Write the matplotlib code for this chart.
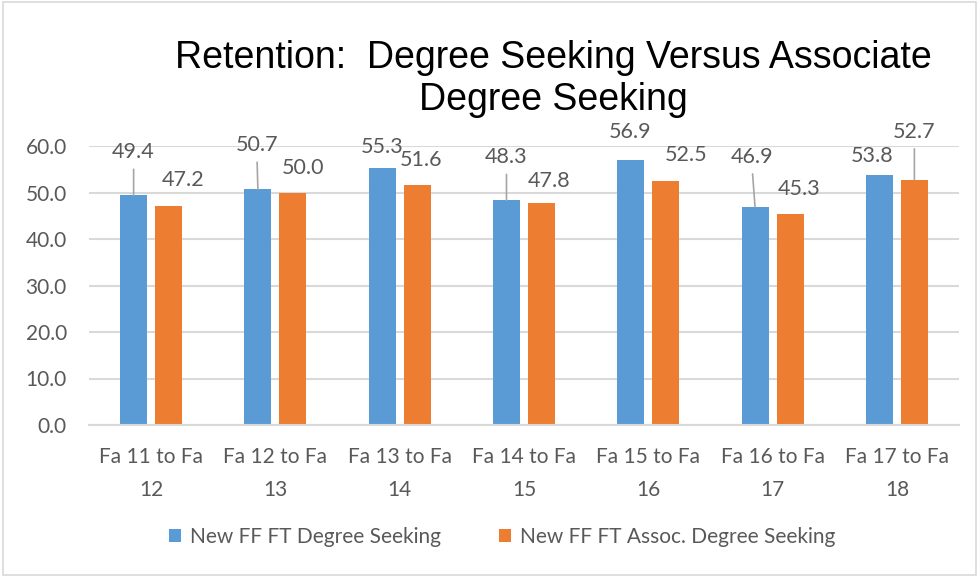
import matplotlib.pyplot as plt
import numpy as np

categories = ['Fa 11 to Fa\n12', 'Fa 12 to Fa\n13', 'Fa 13 to Fa\n14', 'Fa 14 to Fa\n15',
              'Fa 15 to Fa\n16', 'Fa 16 to Fa\n17', 'Fa 17 to Fa\n18']
degree_seeking = [49.4, 50.7, 55.3, 48.3, 56.9, 46.9, 53.8]
assoc_seeking = [47.2, 50.0, 51.6, 47.8, 52.5, 45.3, 52.7]
series_names = ['New FF FT Degree Seeking', 'New FF FT Assoc. Degree Seeking']
yticks = [0, 10, 20, 30, 40, 50, 60]

# label centre offsets in pixels from the bar top (dx, dy), and whether a leader line is drawn
blue_offsets = [(0, 43), (-1, 44), (0, 21), (0, 43), (-1, 28), (-3, 50), (-7, 19)]
blue_leader = [True, True, False, True, False, True, False]
orange_offsets = [(14, 26), (10, 25), (4, 25), (8, 22), (20, 26), (9, 25), (0, 48)]
orange_leader = [False, False, False, False, False, False, True]

BLUE = '#5B9BD5'
ORANGE = '#ED7D31'
TXT = '#595959'
GRID = '#D9D9D9'

plt.rcParams['font.family'] = ['Lato', 'DejaVu Sans']

fig = plt.figure(figsize=(9.8, 5.77), dpi=100)
fig.patches.append(plt.Rectangle((0.003, 0.004), 0.993, 0.992, transform=fig.transFigure,
                                 fill=False, edgecolor=GRID, linewidth=1.2))
ax = fig.add_axes([89 / 980, 1 - 425 / 577, 870 / 980, 279 / 577])

x = np.arange(len(categories))
w = 0.217
off = 0.141
b1 = ax.bar(x - off, degree_seeking, w, color=BLUE, label=series_names[0], zorder=2)
b2 = ax.bar(x + off, assoc_seeking, w, color=ORANGE, label=series_names[1], zorder=2)


def add_labels(xs, vals, offsets, leaders):
    for xi, v, (dx, dy), lead in zip(xs, vals, offsets, leaders):
        props = None
        if lead:
            props = dict(arrowstyle='-', color='#A6A6A6', lw=1.2, shrinkA=3, shrinkB=0,
                         relpos=(0.5, 0.0))
        ax.annotate('{:.1f}'.format(v), xy=(xi, v), xytext=(dx, dy),
                    textcoords='offset pixels', ha='center', va='center',
                    fontsize=15.5, color=TXT, arrowprops=props)


add_labels(x - off, degree_seeking, blue_offsets, blue_leader)
add_labels(x + off, assoc_seeking, orange_offsets, orange_leader)

ax.set_xlim(-0.5, len(categories) - 0.5)
ax.set_ylim(0, 60)
ax.set_yticks(yticks)
ax.set_yticklabels(['{:.1f}'.format(t) for t in yticks])
ax.set_xticks(x)
ax.set_xticklabels(categories, linespacing=1.8)
ax.tick_params(axis='both', length=0, labelsize=15, labelcolor=TXT)
ax.tick_params(axis='x', pad=16)
ax.tick_params(axis='y', pad=16)
ax.grid(axis='y', color=GRID, linewidth=1.5, zorder=0)
for s in ['top', 'right', 'left']:
    ax.spines[s].set_visible(False)
ax.spines['bottom'].set_color(GRID)
ax.spines['bottom'].set_linewidth(1.5)

fig.text(553 / 980, 1 - 79 / 577, 'Retention:  Degree Seeking Versus Associate\nDegree Seeking',
         ha='center', va='center', fontsize=27, color='black', family='Liberation Sans',
         linespacing=1.2)

fig.legend(handles=[b1, b2], loc='center', bbox_to_anchor=(502 / 980, 1 - 537 / 577), ncol=2,
           frameon=False, fontsize=15, labelcolor=TXT, handlelength=0.6, handleheight=0.6,
           handletextpad=0.4, columnspacing=2.8)

fig.savefig('out.png', dpi=100)
